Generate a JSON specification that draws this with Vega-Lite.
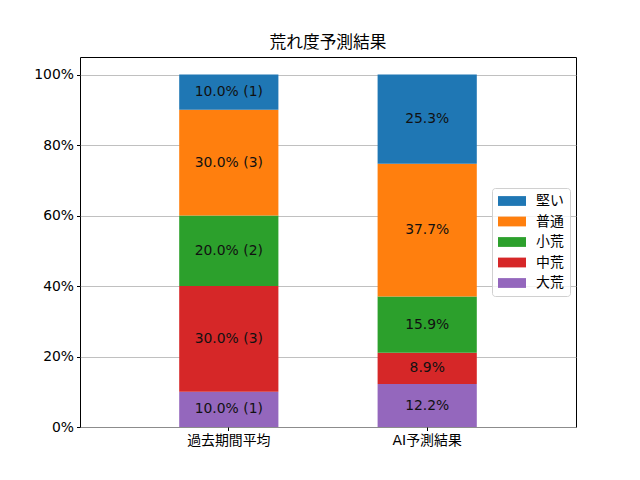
{
  "$schema": "https://vega.github.io/schema/vega-lite/v6.json",
  "autosize": "none",
  "width": 496,
  "height": 370,
  "padding": {"left": 80, "top": 57, "right": 64, "bottom": 53},
  "title": {"text": "荒れ度予測結果", "fontSize": 16.7, "fontWeight": "normal", "font": "DejaVu Sans, Noto Sans CJK JP", "color": "black", "offset": 5},
  "data": {
    "values": [
      {"group": "過去期間平均", "cat": "大荒", "share": 0.10, "label": "10.0% (1)"},
      {"group": "過去期間平均", "cat": "中荒", "share": 0.30, "label": "30.0% (3)"},
      {"group": "過去期間平均", "cat": "小荒", "share": 0.20, "label": "20.0% (2)"},
      {"group": "過去期間平均", "cat": "普通", "share": 0.30, "label": "30.0% (3)"},
      {"group": "過去期間平均", "cat": "堅い", "share": 0.10, "label": "10.0% (1)"},
      {"group": "AI予測結果", "cat": "大荒", "share": 0.122, "label": "12.2%"},
      {"group": "AI予測結果", "cat": "中荒", "share": 0.089, "label": "8.9%"},
      {"group": "AI予測結果", "cat": "小荒", "share": 0.159, "label": "15.9%"},
      {"group": "AI予測結果", "cat": "普通", "share": 0.377, "label": "37.7%"},
      {"group": "AI予測結果", "cat": "堅い", "share": 0.253, "label": "25.3%"}
    ]
  },
  "transform": [
    {"calculate": "indexof(['大荒','中荒','小荒','普通','堅い'], datum.cat)", "as": "ord"},
    {"stack": "share", "groupby": ["group"], "sort": [{"field": "ord"}], "as": ["lo", "hi"]},
    {"calculate": "(datum.lo + datum.hi) / 2", "as": "mid"}
  ],
  "encoding": {
    "x": {
      "field": "group", "type": "nominal", "sort": ["過去期間平均", "AI予測結果"],
      "scale": {"paddingInner": 0.5, "paddingOuter": 0.5},
      "axis": {"title": null, "labelAngle": 0, "grid": false, "tickSize": 3.5, "labelPadding": 3, "labelFontSize": 13.9, "domain": false}
    }
  },
  "layer": [
    {
      "mark": {"type": "bar"},
      "encoding": {
        "y": {
          "field": "lo", "type": "quantitative",
          "scale": {"domain": [0, 1.05], "nice": false},
          "axis": {"title": null, "format": ".0%", "values": [0, 0.2, 0.4, 0.6, 0.8, 1.0], "grid": true, "tickSize": 3.5, "labelPadding": 3, "labelFontSize": 13.9, "domain": false}
        },
        "y2": {"field": "hi"},
        "color": {
          "field": "cat", "type": "nominal",
          "scale": {"domain": ["堅い", "普通", "小荒", "中荒", "大荒"], "range": ["#1f77b4", "#ff7f0e", "#2ca02c", "#d62728", "#9467bd"]},
          "legend": {
            "title": null, "orient": "none", "legendX": 412, "legendY": 131,
            "symbolType": "M-2,-0.7H2V0.7H-2Z", "symbolSize": 196, "symbolStrokeWidth": 0, "symbolOffset": 7,
            "labelFontSize": 13.9, "labelOffset": 17, "rowPadding": 6.5,
            "padding": 6, "strokeColor": "#d0d0d0", "fillColor": "rgba(255,255,255,0.8)", "cornerRadius": 3
          }
        }
      }
    },
    {
      "mark": {"type": "text", "fontSize": 13.9, "color": "#111111"},
      "encoding": {
        "y": {"field": "mid", "type": "quantitative"},
        "text": {"field": "label"}
      }
    }
  ],
  "config": {
    "font": "DejaVu Sans, Noto Sans CJK JP",
    "view": {"stroke": "black", "strokeWidth": 1},
    "axis": {"labelColor": "black", "tickColor": "black", "gridColor": "#b0b0b0", "gridWidth": 0.8, "labelFont": "DejaVu Sans, Noto Sans CJK JP"},
    "legend": {"labelColor": "black", "labelFont": "DejaVu Sans, Noto Sans CJK JP"},
    "text": {"font": "DejaVu Sans, Noto Sans CJK JP"}
  }
}
